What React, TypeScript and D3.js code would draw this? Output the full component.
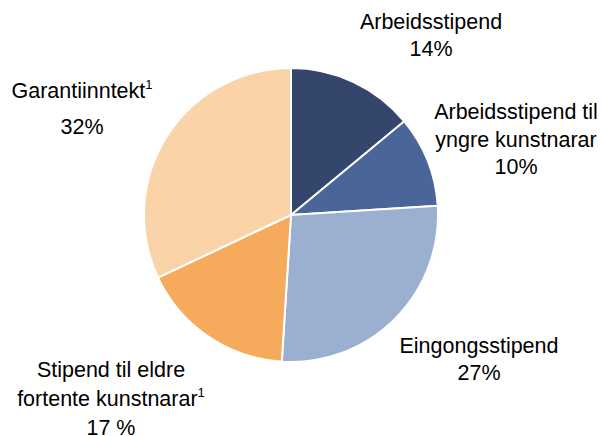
import React, { useEffect, useRef } from "react";
import * as d3 from "d3";

const categories = [
  "Arbeidsstipend",
  "Arbeidsstipend til yngre kunstnarar",
  "Eingongsstipend",
  "Stipend til eldre fortente kunstnarar",
  "Garantiinntekt",
];
const shares = [14, 10, 27, 17, 32];
const colors = ["#34466B", "#4A6699", "#9BAFD1", "#F6AA5C", "#FAD3A9"];

// label lines per slice: [text, superscript]
const labelLines: [string, string][][] = [
  [["Arbeidsstipend", ""], ["14%", ""]],
  [["Arbeidsstipend til", ""], ["yngre kunstnarar", ""], ["10%", ""]],
  [["Eingongsstipend", ""], ["27%", ""]],
  [["Stipend til eldre", ""], ["fortente kunstnarar", "1"], ["17 %", ""]],
  [["Garantiinntekt", "1"], ["32%", ""]],
];
// label anchor (centre x, first baseline y, line gap)
const labelPos = [
  [431, 29, 26.5],
  [516, 119, 27.5],
  [479, 353, 26.5],
  [111, 377, 29],
  [82, 98, 36],
];

const App = () => {
  const ref = useRef<SVGSVGElement>(null);

  useEffect(() => {
    document.body.style.margin = "0";
    document.documentElement.style.overflow = "hidden";

    const width = 601,
      height = 436;
    const cx = 291,
      cy = 215,
      r = 147;

    const svg = d3.select(ref.current).attr("width", width).attr("height", height);
    svg.selectAll("*").remove();

    const pie = d3
      .pie<number>()
      .sort(null)
      .value((d) => d);
    const arc = d3.arc<d3.PieArcDatum<number>>().innerRadius(0).outerRadius(r);

    const g = svg.append("g").attr("transform", `translate(${cx},${cy})`);
    g.selectAll("path")
      .data(pie(shares))
      .enter()
      .append("path")
      .attr("d", arc)
      .attr("fill", (d, i) => colors[i])
      .attr("stroke", "#fff")
      .attr("stroke-width", 2);

    labelLines.forEach((lines, i) => {
      const [x, y, gap] = labelPos[i];
      lines.forEach(([txt, sup], j) => {
        const t = svg
          .append("text")
          .attr("x", x)
          .attr("y", y + j * gap)
          .attr("text-anchor", "middle")
          .attr("font-family", "'Liberation Sans', Arial, sans-serif")
          .attr("font-size", 21.5)
          .attr("fill", "#000")
          .text(txt);
        if (sup) {
          t.append("tspan")
            .attr("font-size", 13)
            .attr("dy", -9)
            .text(sup);
        }
      });
    });
  }, []);

  return <svg ref={ref} style={{ display: "block" }}></svg>;
};

export default App;
